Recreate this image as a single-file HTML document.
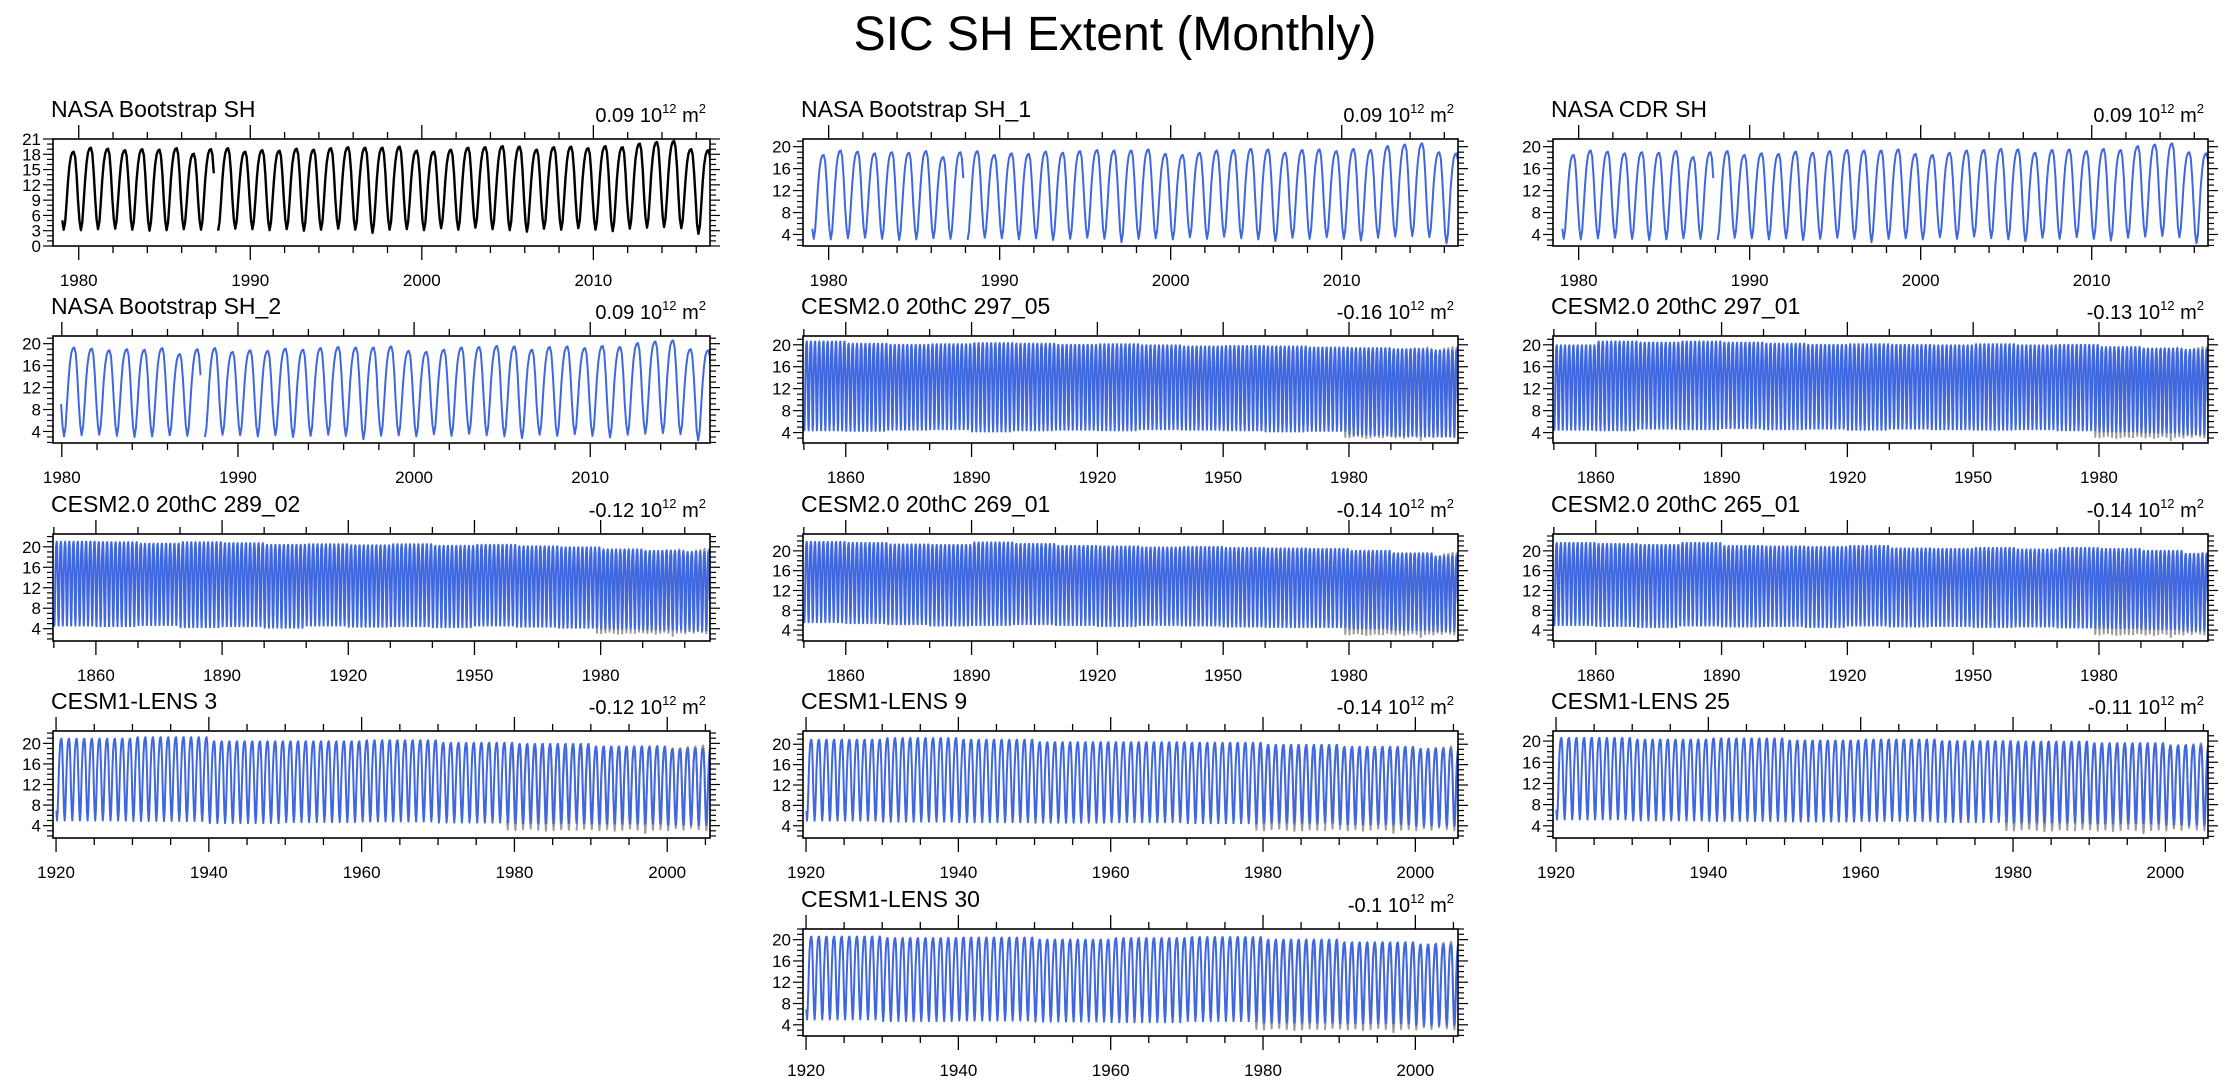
<!DOCTYPE html>
<html><head><meta charset="utf-8">
<style>
html,body{margin:0;padding:0;background:#fff;}
svg{display:block;font-family:"Liberation Sans",sans-serif;}
</style></head>
<body>
<svg id="fig" width="2230" height="1087" viewBox="0 0 2230 1087" xmlns="http://www.w3.org/2000/svg">
<text x="1115" y="50" text-anchor="middle" font-size="48" fill="#000">SIC SH Extent (Monthly)</text>
</svg>
<script>
// ---- data (annual seasonal max / min, 10^12 m^2) ----
const obsYears = [1979,1980,1981,1982,1983,1984,1985,1986,1987,1988,1989,1990,1991,1992,1993,1994,1995,1996,1997,1998,1999,2000,2001,2002,2003,2004,2005,2006,2007,2008,2009,2010,2011,2012,2013,2014,2015,2016];
const obsMax = [18.5,19.3,19.1,18.8,19.0,18.9,19.2,18.1,19.0,19.2,18.5,18.8,18.7,19.1,18.9,19.2,19.4,19.3,19.3,19.5,18.7,18.5,18.9,19.3,19.4,19.6,19.5,18.9,19.4,19.5,19.2,19.6,19.4,20.1,20.4,20.6,19.0,18.8];
const obsMin = [3.2,3.1,3.3,3.4,3.2,3.0,3.1,3.3,3.2,3.0,3.4,3.3,3.1,3.3,3.0,3.2,3.4,3.2,2.6,3.2,3.3,3.1,3.5,3.2,3.6,3.3,3.1,2.8,3.4,3.2,3.5,3.2,2.9,3.4,3.6,3.7,3.5,2.4];
const monthShape = [0.12,0,0.1,0.35,0.62,0.82,0.94,0.99,1,0.93,0.7,0.38];
const cesm2Decades = [1850,1860,1870,1880,1890,1900,1910,1920,1930,1940,1950,1960,1970,1980,1990,2000];
const c297_05Max = [20.6,20.2,20.0,20.1,20.3,20.2,20.0,20.1,19.9,19.7,19.8,19.7,19.5,19.4,19.2,19.0];
const c297_05Min = [4.4,4.3,4.5,4.6,4.2,4.4,4.5,4.4,4.6,4.5,4.4,4.2,4.3,3.6,3.4,3.3];
const c297_01Max = [19.9,20.6,20.4,20.6,20.4,20.2,20.0,20.1,20.0,19.9,20.1,19.9,20.0,19.6,19.3,19.1];
const c297_01Min = [4.5,4.4,4.7,4.6,4.8,4.6,4.7,4.5,4.7,4.6,4.5,4.6,4.4,4.2,4.0,3.7];
const c289_02Max = [21.0,20.9,20.6,20.9,20.7,20.4,20.5,20.3,20.5,20.2,20.4,20.1,19.9,19.5,19.2,19.0];
const c289_02Min = [4.6,4.5,4.7,4.3,4.5,4.2,4.6,4.4,4.5,4.3,4.6,4.4,4.2,4.0,3.8,3.6];
const c269_01Max = [21.8,21.6,21.3,21.2,21.7,21.4,21.0,20.9,20.7,20.8,20.6,20.5,20.4,20.0,19.5,18.9];
const c269_01Min = [5.6,5.4,5.2,4.9,5.0,5.2,5.0,4.8,5.0,4.9,4.7,4.6,4.6,4.3,4.0,3.8];
const c265_01Max = [21.6,21.4,21.2,21.6,21.0,20.9,20.8,21.0,20.5,20.4,20.6,20.3,20.6,20.4,20.0,19.4];
const c265_01Min = [5.0,4.8,4.6,4.9,4.7,4.8,4.6,4.9,4.7,4.8,4.6,4.7,4.5,4.4,4.2,3.9];
const lensDecades = [1920,1930,1940,1950,1960,1970,1980,1990,2000];
const l3Max = [20.9,21.2,20.4,20.4,20.6,20.1,19.9,19.4,19.0];
const l3Min = [5.0,4.9,4.5,4.7,4.8,4.6,4.5,4.4,4.1];
const l9Max = [20.9,21.2,20.9,20.4,20.4,20.3,19.9,19.5,19.1];
const l9Min = [5.0,4.8,4.7,4.6,4.7,4.5,4.6,4.3,4.0];
const l25Max = [20.6,20.3,20.5,20.1,20.3,20.0,19.9,19.6,19.2];
const l25Min = [5.2,5.0,4.9,4.8,4.9,4.7,4.6,4.5,4.2];
const l30Max = [20.6,20.3,20.4,20.0,20.3,20.5,20.0,19.5,19.1];
const l30Min = [5.0,4.7,4.8,4.6,4.5,4.7,4.4,4.3,3.9];

const panelTitles = ["NASA Bootstrap SH","NASA Bootstrap SH_1","NASA CDR SH","NASA Bootstrap SH_2","CESM2.0 20thC 297_05","CESM2.0 20thC 297_01","CESM2.0 20thC 289_02","CESM2.0 20thC 269_01","CESM2.0 20thC 265_01","CESM1-LENS 3","CESM1-LENS 9","CESM1-LENS 25","CESM1-LENS 30"];
const trendLabels = ["0.09","0.09","0.09","0.09","-0.16","-0.13","-0.12","-0.14","-0.14","-0.12","-0.14","-0.11","-0.1"];

const NS = "http://www.w3.org/2000/svg";
const svg = document.getElementById('fig');
const colX = [[53,710],[803,1458],[1553,2208]];
const rowY = [139,336,534,731,929];
const BOXH = 107;
const BLUE = "#3f67e0";

function el(tag, attrs, parent){
  const e = document.createElementNS(NS, tag);
  for (const k in attrs) e.setAttribute(k, attrs[k]);
  (parent||svg).appendChild(e);
  return e;
}

function obsSeries(startYear, endFrac){
  const pts = [];
  for (let i=0;i<obsYears.length;i++){
    const y = obsYears[i];
    for (let m=0;m<12;m++){
      const t = y + (m+0.5)/12;
      if (t < startYear || t > endFrac) continue;
      if ((y===1987 && m===11) || (y===1988 && m===0)) { pts.push(null); continue; }
      pts.push([t, obsMin[i] + monthShape[m]*(obsMax[i]-obsMin[i])]);
    }
  }
  return pts;
}
function modelSeries(decs, mx, mn, y0, y1){
  const pts = [];
  for (let y=y0;y<=y1;y++){
    const d = Math.min(decs.length-1, Math.floor((y-decs[0])/10));
    for (let m=0;m<12;m++){
      pts.push([y+(m+0.5)/12, mn[d] + monthShape[m]*(mx[d]-mn[d])]);
    }
  }
  return pts;
}

function drawPanel(idx, col, row, xr, yr, xMajor, xMinor, yLabels, yMinor, series){
  const x0 = colX[col][0], x1 = colX[col][1];
  const y0 = rowY[row], y1 = y0 + BOXH;
  const sx = t => x0 + (t - xr[0])/(xr[1]-xr[0])*(x1-x0);
  const sy = v => y1 - (v - yr[0])/(yr[1]-yr[0])*(y1-y0);
  const g = el('g', {});
  
  
  const t = el('text', {x:x0-2, y:y0-22, 'font-size':23, fill:'#000'}, g);
  t.textContent = panelTitles[idx];
  
  
  const r = el('text', {x:x1-4, y:y0-17, 'font-size':20, 'text-anchor':'end', fill:'#000'}, g);
  
  
  const a = el('tspan', {}, r); a.textContent = trendLabels[idx] + " 10";
  const b = el('tspan', {'font-size':13, dy:-9}, r); b.textContent = "12";
  const c = el('tspan', {'font-size':20, dy:9}, r); c.textContent = " m";
  const d = el('tspan', {'font-size':13, dy:-9}, r); d.textContent = "2";
  const cid = 'clip'+idx;
  const cp = el('clipPath', {id:cid}, g);
  el('rect', {x:x0, y:y0, width:x1-x0, height:BOXH}, cp);
  const lines = el('g', {'clip-path':'url(#'+cid+')'}, g);
  series.forEach(s => {
    let dstr = '', pen = false;
    s.pts.forEach(p => {
      if (!p) { pen = false; return; }
      dstr += (pen ? 'L' : 'M') + sx(p[0]).toFixed(1) + ' ' + sy(p[1]).toFixed(1);
      pen = true;
    });
    const path = el('path', {d:dstr, fill:'none', stroke:s.color, 'stroke-width':s.w, 'stroke-linejoin':'round'}, lines);
    
    
  });
  const box = el('rect', {x:x0, y:y0, width:x1-x0, height:BOXH, fill:'none', stroke:'#000', 'stroke-width':1.6}, g);
  
  
  for (let v=Math.ceil(xr[0]/xMinor)*xMinor; v<=xr[1]; v+=xMinor){
    const X = sx(v); const maj = (v % xMajor)===0;
    const L = maj ? 14 : 7;
    el('line', {x1:X, x2:X, y1:y1, y2:y1+L, stroke:'#000', 'stroke-width':1.3}, g);
    el('line', {x1:X, x2:X, y1:y0, y2:y0-L, stroke:'#000', 'stroke-width':1.3}, g);
    if (maj){
      const lb = el('text', {x:X, y:y1+40, 'font-size':17, 'text-anchor':'middle', fill:'#000'}, g);
      lb.textContent = v;
      
      
    }
  }
  for (let v=Math.ceil(yr[0]); v<=yr[1]; v+=yMinor){
    const Y = sy(v); const maj = yLabels.includes(v);
    const L = maj ? 10 : 6;
    el('line', {x1:x0, x2:x0-L, y1:Y, y2:Y, stroke:'#000', 'stroke-width':1.2}, g);
    el('line', {x1:x1, x2:x1+L, y1:Y, y2:Y, stroke:'#000', 'stroke-width':1.2}, g);
    if (maj){
      const lb = el('text', {x:x0-12, y:Y+6, 'font-size':17, 'text-anchor':'end', fill:'#000'}, g);
      lb.textContent = v;
      
      
    }
  }
}

const yl4 = [4,8,12,16,20];
const obsGray = (from) => ({pts: obsSeries(from, 2017), color:'#9a9a9a', w:2, name:'obs-reference-line'});

drawPanel(0,0,0,[1978.5,2016.8],[0,21],10,2,[0,3,6,9,12,15,18,21],1,[{pts:obsSeries(1978.8,2016.9),color:'#000',w:2.4,name:'obs-line'}]);
drawPanel(1,1,0,[1978.5,2016.8],[1.9,21.4],10,2,yl4,1,[{pts:obsSeries(1978.8,2016.9),color:BLUE,w:2,name:'obs-line'}]);
drawPanel(2,2,0,[1978.5,2016.8],[1.9,21.4],10,2,yl4,1,[{pts:obsSeries(1978.8,2016.9),color:BLUE,w:2,name:'obs-line'}]);
drawPanel(3,0,1,[1979.5,2016.8],[1.9,21.4],10,2,yl4,1,[{pts:obsSeries(1979.9,2016.9),color:BLUE,w:2,name:'obs-line'}]);
drawPanel(4,1,1,[1849.8,2006],[2.1,21.6],30,10,yl4,1,[obsGray(1979),{pts:modelSeries(cesm2Decades,c297_05Max,c297_05Min,1850,2005),color:BLUE,w:2,name:'model-line'}]);
drawPanel(5,2,1,[1849.8,2006],[2.1,21.6],30,10,yl4,1,[obsGray(1979),{pts:modelSeries(cesm2Decades,c297_01Max,c297_01Min,1850,2005),color:BLUE,w:2,name:'model-line'}]);
drawPanel(6,0,2,[1849.8,2006],[1.6,22.5],30,10,yl4,1,[obsGray(1979),{pts:modelSeries(cesm2Decades,c289_02Max,c289_02Min,1850,2005),color:BLUE,w:2,name:'model-line'}]);
drawPanel(7,1,2,[1849.8,2006],[1.8,23.4],30,10,yl4,1,[obsGray(1979),{pts:modelSeries(cesm2Decades,c269_01Max,c269_01Min,1850,2005),color:BLUE,w:2,name:'model-line'}]);
drawPanel(8,2,2,[1849.8,2006],[1.8,23.4],30,10,yl4,1,[obsGray(1979),{pts:modelSeries(cesm2Decades,c265_01Max,c265_01Min,1850,2005),color:BLUE,w:2,name:'model-line'}]);
drawPanel(9,0,3,[1919.6,2005.6],[1.6,22.4],20,5,yl4,1,[obsGray(1979),{pts:modelSeries(lensDecades,l3Max,l3Min,1920,2005),color:BLUE,w:2,name:'model-line'}]);
drawPanel(10,1,3,[1919.6,2005.6],[1.6,22.6],20,5,yl4,1,[obsGray(1979),{pts:modelSeries(lensDecades,l9Max,l9Min,1920,2005),color:BLUE,w:2,name:'model-line'}]);
drawPanel(11,2,3,[1919.6,2005.6],[1.7,21.9],20,5,yl4,1,[obsGray(1979),{pts:modelSeries(lensDecades,l25Max,l25Min,1920,2005),color:BLUE,w:2,name:'model-line'}]);
drawPanel(12,1,4,[1919.6,2005.6],[1.9,22.0],20,5,yl4,1,[obsGray(1979),{pts:modelSeries(lensDecades,l30Max,l30Min,1920,2005),color:BLUE,w:2,name:'model-line'}]);
</script>
</body></html>
